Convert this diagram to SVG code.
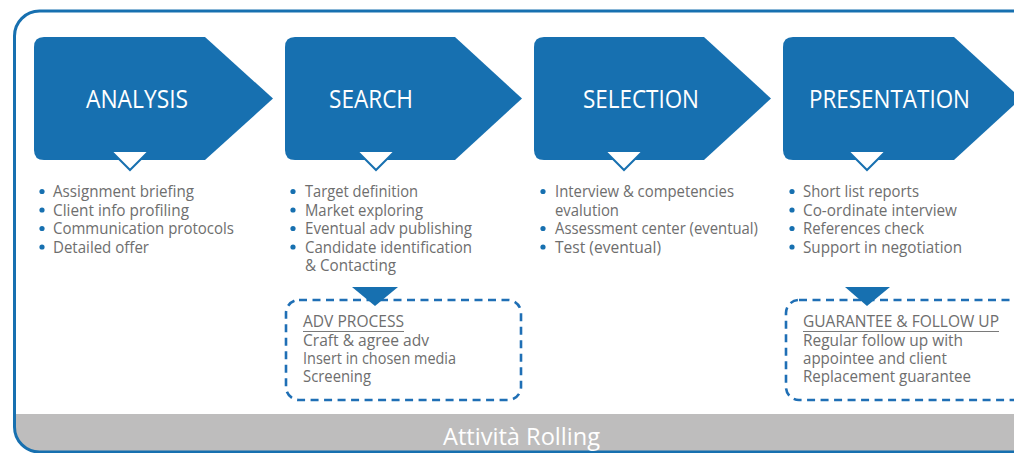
<svg xmlns="http://www.w3.org/2000/svg" width="1014" height="453" viewBox="0 0 1014 453">
<defs>
  <style>
    .step{fill:#1770b0}
    .head{font-family:"Open Sans","Noto Sans",sans-serif;font-size:25px;fill:#ffffff}
    .bul{font-family:"Open Sans","Noto Sans",sans-serif;font-size:17px;fill:#6e6e6e}
    .dot{fill:#1770b0}
    .notch{fill:#ffffff}
    .notchline{fill:none;stroke:#1770b0;stroke-width:2}
    .dash{fill:none;stroke:#1f6fb5;stroke-width:2.6;stroke-dasharray:8 5.5}
    .tri{fill:#1770b0}
    .ul{stroke:#7a7a7a;stroke-width:1}
    .foot{font-family:"Open Sans","Noto Sans",sans-serif;font-size:24px;fill:#ffffff}
  </style>
  <clipPath id="frameclip">
    <rect x="14.5" y="11" width="1030" height="441" rx="25" ry="25"/>
  </clipPath>
</defs>

<g id="frame">
  <rect x="14.5" y="414" width="1030" height="40" fill="#bebdbd" clip-path="url(#frameclip)"/>
  <rect x="14.5" y="11" width="1030" height="441" rx="25" ry="25" fill="none" stroke="#1770b0" stroke-width="3"/>
  <text class="foot" x="443" y="445" textLength="157" lengthAdjust="spacingAndGlyphs">Attività Rolling</text>
</g>

<g id="analysis">
  <path class="step" d="M44,37 H205 L273,98.5 L205,160 H44 Q34,160 34,150 V47 Q34,37 44,37 Z"/>
  <polygon class="notch" points="112,152 148,152 130,170"/>
  <polyline class="notchline" points="112,152 130,170 148,152"/>
  <text class="head" x="86" y="108" textLength="102" lengthAdjust="spacingAndGlyphs">ANALYSIS</text>
  <circle class="dot" cx="42" cy="191.5" r="2.6"/>
  <circle class="dot" cx="42" cy="210" r="2.6"/>
  <circle class="dot" cx="42" cy="228.5" r="2.6"/>
  <circle class="dot" cx="42" cy="247" r="2.6"/>
  <text class="bul" x="53" y="197" textLength="141" lengthAdjust="spacingAndGlyphs">Assignment briefing</text>
  <text class="bul" x="53" y="215.5" textLength="136" lengthAdjust="spacingAndGlyphs">Client info profiling</text>
  <text class="bul" x="53" y="234" textLength="181" lengthAdjust="spacingAndGlyphs">Communication protocols</text>
  <text class="bul" x="53" y="252.5" textLength="96" lengthAdjust="spacingAndGlyphs">Detailed offer</text>
</g>

<g id="search">
  <path class="step" d="M295,37 H455 L522,98.5 L455,160 H295 Q285,160 285,150 V47 Q285,37 295,37 Z"/>
  <polygon class="notch" points="358,152 394,152 376,170"/>
  <polyline class="notchline" points="358,152 376,170 394,152"/>
  <text class="head" x="329" y="108" textLength="84" lengthAdjust="spacingAndGlyphs">SEARCH</text>
  <circle class="dot" cx="293" cy="191.5" r="2.6"/>
  <circle class="dot" cx="293" cy="210" r="2.6"/>
  <circle class="dot" cx="293" cy="228.5" r="2.6"/>
  <circle class="dot" cx="293" cy="247" r="2.6"/>
  <text class="bul" x="305" y="197" textLength="113" lengthAdjust="spacingAndGlyphs">Target definition</text>
  <text class="bul" x="305" y="215.5" textLength="118" lengthAdjust="spacingAndGlyphs">Market exploring</text>
  <text class="bul" x="305" y="234" textLength="167" lengthAdjust="spacingAndGlyphs">Eventual adv publishing</text>
  <text class="bul" x="305" y="252.5" textLength="167" lengthAdjust="spacingAndGlyphs">Candidate identification</text>
  <text class="bul" x="305" y="271" textLength="91" lengthAdjust="spacingAndGlyphs">&amp; Contacting</text>
</g>

<g id="selection">
  <path class="step" d="M544,37 H704 L771,98.5 L704,160 H544 Q534,160 534,150 V47 Q534,37 544,37 Z"/>
  <polygon class="notch" points="606,152 642,152 624,170"/>
  <polyline class="notchline" points="606,152 624,170 642,152"/>
  <text class="head" x="583" y="108" textLength="116" lengthAdjust="spacingAndGlyphs">SELECTION</text>
  <circle class="dot" cx="543" cy="191.5" r="2.6"/>
  <circle class="dot" cx="543" cy="228.5" r="2.6"/>
  <circle class="dot" cx="543" cy="247" r="2.6"/>
  <text class="bul" x="555" y="197" textLength="179" lengthAdjust="spacingAndGlyphs">Interview &amp; competencies</text>
  <text class="bul" x="555" y="215.5" textLength="64" lengthAdjust="spacingAndGlyphs">evalution</text>
  <text class="bul" x="555" y="234" textLength="203" lengthAdjust="spacingAndGlyphs">Assessment center (eventual)</text>
  <text class="bul" x="555" y="252.5" textLength="106" lengthAdjust="spacingAndGlyphs">Test (eventual)</text>
</g>

<g id="presentation">
  <path class="step" d="M793,37 H954 L1021,98.5 L954,160 H793 Q783,160 783,150 V47 Q783,37 793,37 Z"/>
  <polygon class="notch" points="849,152 885,152 867,170"/>
  <polyline class="notchline" points="849,152 867,170 885,152"/>
  <text class="head" x="809" y="108" textLength="161" lengthAdjust="spacingAndGlyphs">PRESENTATION</text>
  <circle class="dot" cx="792" cy="191.5" r="2.6"/>
  <circle class="dot" cx="792" cy="210" r="2.6"/>
  <circle class="dot" cx="792" cy="228.5" r="2.6"/>
  <circle class="dot" cx="792" cy="247" r="2.6"/>
  <text class="bul" x="803" y="197" textLength="116" lengthAdjust="spacingAndGlyphs">Short list reports</text>
  <text class="bul" x="803" y="215.5" textLength="154" lengthAdjust="spacingAndGlyphs">Co-ordinate interview</text>
  <text class="bul" x="803" y="234" textLength="121" lengthAdjust="spacingAndGlyphs">References check</text>
  <text class="bul" x="803" y="252.5" textLength="159" lengthAdjust="spacingAndGlyphs">Support in negotiation</text>
</g>

<g id="adv-process">
  <rect class="dash" x="286" y="300" width="235" height="100" rx="13" ry="13"/>
  <polygon class="tri" points="352,287 398,287 375,306"/>
  <text class="bul" x="303" y="327" textLength="101" lengthAdjust="spacingAndGlyphs">ADV PROCESS</text>
  <line class="ul" x1="303" y1="331.5" x2="404" y2="331.5"/>
  <text class="bul" x="303" y="345.5" textLength="126" lengthAdjust="spacingAndGlyphs">Craft &amp; agree adv</text>
  <text class="bul" x="303" y="363.5" textLength="153" lengthAdjust="spacingAndGlyphs">Insert in chosen media</text>
  <text class="bul" x="303" y="381.5" textLength="68" lengthAdjust="spacingAndGlyphs">Screening</text>
</g>

<g id="guarantee">
  <rect class="dash" x="786" y="300" width="240" height="100" rx="13" ry="13"/>
  <polygon class="tri" points="845,287 890,287 867,306"/>
  <text class="bul" x="803" y="327" textLength="196" lengthAdjust="spacingAndGlyphs">GUARANTEE &amp; FOLLOW UP</text>
  <line class="ul" x1="803" y1="331.5" x2="999" y2="331.5"/>
  <text class="bul" x="803" y="345.5" textLength="160" lengthAdjust="spacingAndGlyphs">Regular follow up with</text>
  <text class="bul" x="803" y="363.5" textLength="144" lengthAdjust="spacingAndGlyphs">appointee and client</text>
  <text class="bul" x="803" y="381.5" textLength="168" lengthAdjust="spacingAndGlyphs">Replacement guarantee</text>
</g>

<g id="connectors"></g>
</svg>
